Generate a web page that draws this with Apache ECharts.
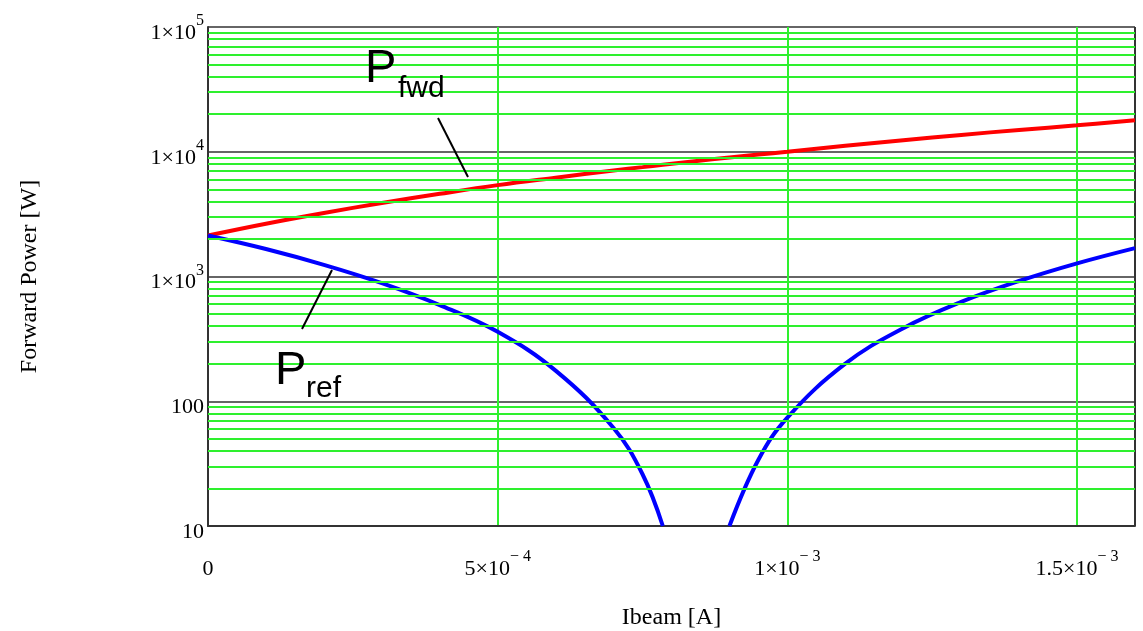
<!DOCTYPE html>
<html>
<head>
<meta charset="utf-8">
<script src="https://cdn.jsdelivr.net/npm/echarts@6/dist/echarts.min.js"></script>
<style>
  html, body { margin: 0; padding: 0; background: #fff; }
  #chart { width: 1143px; height: 631px; }
</style>
</head>
<body>
<div id="chart"></div>
<script>
// beam current [A]
var ibeam = [0, 1e-4, 2e-4, 3e-4, 4e-4, 5e-4, 6e-4, 7e-4, 7.5e-4, 7.85e-4, 8.4e-4,
             9e-4, 9.5e-4, 1e-3, 1.1e-3, 1.2e-3, 1.3e-3, 1.4e-3, 1.5e-3, 1.6e-3];
// forward power [W]
var pFwd = [2130, 2650, 3230, 3880, 4600, 5400, 6200, 7080, 7530, 7860, 8400,
            9000, 9500, 10000, 11150, 12350, 13650, 14950, 16300, 17900];
// reflected power [W] (falls below the axis near 0.84 mA)
var pRef = [2130, 1660, 1240, 885, 590, 360, 176, 61, 26, 10, null,
            10, 34, 74, 200, 385, 625, 920, 1275, 1690];

var xTickLabels = { 0: '{b|0}', 5: '{b|5×10}{s|− 4}', 10: '{b|1×10}{s|− 3}', 15: '{b|1.5×10}{s|− 3}' };
var yTickLabels = { 1: '{b|10}', 2: '{b|100}', 3: '{b|1×10}{s|3}', 4: '{b|1×10}{s|4}', 5: '{b|1×10}{s|5}' };

var GREEN = '#2ef02e';
var FRAME = '#333';

// green minor lines at 2..9 of every decade
var minorLines = [];
[10, 100, 1000, 10000].forEach(function (d) {
  for (var k = 2; k <= 9; k++) minorLines.push({ yAxis: k * d });
});

var rich = {
  b: { fontFamily: 'Liberation Serif', fontSize: 22, lineHeight: 22, color: '#000', padding: [12, 0, 0, 0] },
  s: { fontFamily: 'Liberation Serif', fontSize: 16, lineHeight: 16, color: '#000', padding: [0, 0, 12, 0] }
};

var chart = echarts.init(document.getElementById('chart'));
chart.setOption({
  animation: false,
  grid: { left: 208, top: 27, width: 927, height: 499, outerBoundsMode: 'none', containLabel: false },
  xAxis: {
    type: 'value',
    min: 0,
    max: 1.6e-3,
    interval: 5e-4,
    name: 'Ibeam [A]',
    nameLocation: 'middle',
    nameGap: 80,
    nameTextStyle: { fontFamily: 'Liberation Serif', fontSize: 24, color: '#000' },
    axisLine: { show: true, lineStyle: { color: FRAME, width: 2 } },
    axisTick: { show: false },
    axisLabel: {
      margin: 26,
      showMaxLabel: false,
      formatter: function (v) { return xTickLabels[Math.round(v * 1e4)] || ''; },
      rich: rich
    },
    splitLine: { show: true, lineStyle: { color: [FRAME, GREEN, GREEN, GREEN, FRAME], width: 2 } }
  },
  yAxis: {
    type: 'log',
    logBase: 10,
    min: 10,
    max: 100000,
    name: 'Forward Power [W]',
    nameLocation: 'middle',
    nameGap: 166,
    nameTextStyle: { fontFamily: 'Liberation Serif', fontSize: 24, color: '#000' },
    axisLine: { show: true, lineStyle: { color: FRAME, width: 2 } },
    axisTick: { show: false },
    axisLabel: {
      margin: 4,
      formatter: function (v) { return yTickLabels[Math.round(Math.log10(v))] || ''; },
      rich: rich
    },
    splitLine: { show: true, lineStyle: { color: FRAME, width: 1.5 } }
  },
  series: [
    {
      name: 'minor grid',
      type: 'line',
      z: 1,
      silent: true,
      data: [],
      markLine: {
        silent: true,
        symbol: 'none',
        label: { show: false },
        lineStyle: { color: GREEN, width: 2, type: 'solid' },
        emphasis: { disabled: true },
        data: minorLines
      }
    },
    {
      name: 'Pfwd',
      type: 'line',
      z: 3,
      smooth: 0.4,
      showSymbol: false,
      lineStyle: { color: '#ff0000', width: 4 },
      data: ibeam.map(function (x, i) { return [x, pFwd[i]]; })
    },
    {
      name: 'Pref',
      type: 'line',
      z: 3,
      smooth: 0.4,
      showSymbol: false,
      connectNulls: false,
      lineStyle: { color: '#0000ff', width: 4 },
      data: ibeam.map(function (x, i) { return [x, pRef[i] === null ? '-' : pRef[i]]; })
    }
  ],
  graphic: [
    { type: 'text', z: 10, style: { text: 'P', x: 365, y: 69, font: '47px "Liberation Sans"', fill: '#000', textVerticalAlign: 'middle' } },
    { type: 'text', z: 10, style: { text: 'fwd', x: 398, y: 89, font: '30px "Liberation Sans"', fill: '#000', textVerticalAlign: 'middle' } },
    { type: 'line', z: 10, shape: { x1: 438, y1: 118, x2: 468, y2: 177 }, style: { stroke: '#000', lineWidth: 2 } },
    { type: 'text', z: 10, style: { text: 'P', x: 275, y: 371, font: '47px "Liberation Sans"', fill: '#000', textVerticalAlign: 'middle' } },
    { type: 'text', z: 10, style: { text: 'ref', x: 306, y: 389, font: '30px "Liberation Sans"', fill: '#000', textVerticalAlign: 'middle' } },
    { type: 'line', z: 10, shape: { x1: 302, y1: 329, x2: 332, y2: 270 }, style: { stroke: '#000', lineWidth: 2 } }
  ]
});
</script>
</body>
</html>
